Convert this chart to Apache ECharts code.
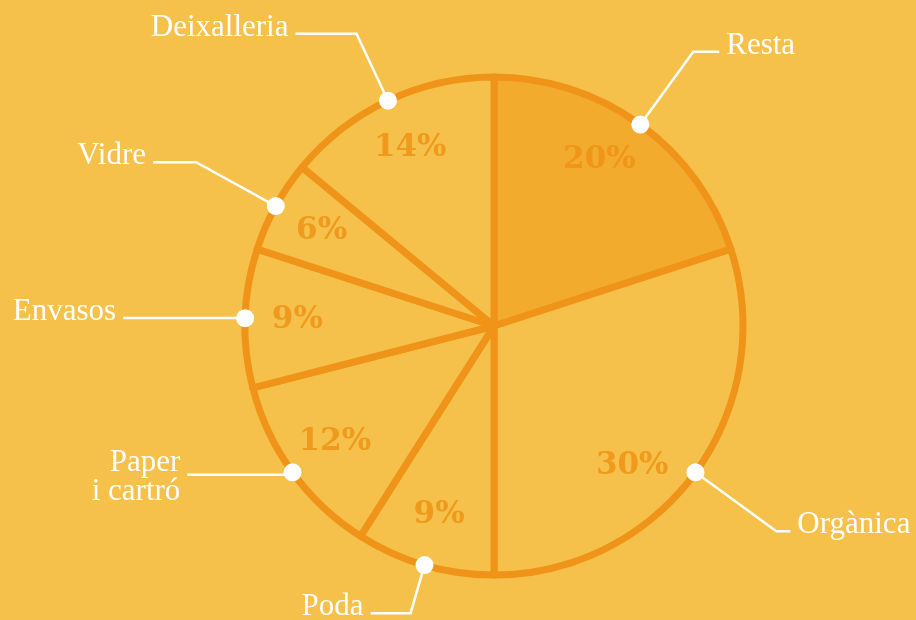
<!DOCTYPE html>
<html>
<head>
<meta charset="utf-8">
<script src="https://cdn.jsdelivr.net/npm/echarts@6/dist/echarts.min.js"></script>
<style>
    html, body { margin: 0; padding: 0; background: #F6C14A; }
    #chart { width: 916px; height: 620px; }
</style>
</head>
<body>
<div id="chart"></div>
<script>
// dades del gràfic (ordre horari des de dalt)
var categories = ['Resta', 'Orgànica', 'Poda', 'Paper\ni cartró', 'Envasos', 'Vidre', 'Deixalleria'];
var values = [20, 30, 9, 12, 9, 6, 14];

var bgColor = '#F6C14A';
var restaColor = '#F3AB2E';
var strokeColor = '#EF9419';
var pctColor = '#EE9012';

// línies de les etiquetes: [length, length2]
var lineSetup = [
    [90, 26],
    [100, 14],
    [50, 40],
    [4, 102],
    [8, 114],
    [91, 43],
    [74, 61]
];
// petit desplaçament de les xifres interiors (en % del cercle)
var pctShift = [-1, 2.6, 0, 0, 0, 0, 0];

(function() {
    var chart = echarts.init(document.getElementById('chart'));
    var center = [494, 326];
    var radius = 249;
    var total = 0, acc = 0, i;
    var pieData = [], dots = [], pcts = [];

    for (i = 0; i < values.length; i++) total += values[i];
    for (i = 0; i < values.length; i++) {
        var mid = (acc + values[i] / 2) / total * 100;
        acc += values[i];
        pieData.push({
            name: categories[i],
            value: values[i],
            itemStyle: { color: i === 0 ? restaColor : bgColor },
            labelLine: { length: lineSetup[i][0], length2: lineSetup[i][1] }
        });
        dots.push([1, mid]);
        pcts.push([0.79, mid + pctShift[i], values[i]]);
    }

    // la línia de base del text queda a l'altura de la línia guia
    function labelText(p) {
        var lines = p.name.split('\n');
        var txt = lines.map(function(l) { return '{b|' + l + '}'; }).join('\n');
        if (lines.length > 1) return '{t|}\n' + txt;
        return txt + '\n{s|}';
    }

    var option = {
        backgroundColor: bgColor,
        animation: false,
        polar: { center: center, radius: radius },
        angleAxis: { type: 'value', min: 0, max: 100, startAngle: 90, clockwise: true, show: false },
        radiusAxis: { type: 'value', min: 0, max: 1, show: false },
        series: [
            {
                type: 'pie',
                center: center,
                radius: radius,
                startAngle: 90,
                clockwise: true,
                avoidLabelOverlap: false,
                silent: true,
                itemStyle: {
                    borderColor: strokeColor,
                    borderWidth: 7
                },
                label: {
                    show: true,
                    position: 'outside',
                    formatter: labelText,
                    distanceToLabelLine: 7,
                    rich: {
                        b: {
                            color: '#fff',
                            fontFamily: 'Liberation Serif',
                            fontSize: 31,
                            lineHeight: 29
                        },
                        s: { lineHeight: 12, fontSize: 1 },
                        t: { lineHeight: 6, fontSize: 1 }
                    }
                },
                labelLine: {
                    show: true,
                    smooth: false,
                    lineStyle: { color: '#fff', width: 2.5 }
                },
                emphasis: { disabled: true },
                data: pieData
            },
            {
                type: 'scatter',
                coordinateSystem: 'polar',
                symbolSize: 18,
                z: 10,
                silent: true,
                itemStyle: { color: '#fff', opacity: 1 },
                data: dots
            },
            {
                type: 'scatter',
                coordinateSystem: 'polar',
                symbolSize: 1,
                z: 10,
                silent: true,
                itemStyle: { color: 'transparent' },
                label: {
                    show: true,
                    position: 'inside',
                    formatter: function(p) { return p.value[2] + '%'; },
                    color: pctColor,
                    fontFamily: 'DejaVu Serif',
                    fontWeight: 'bold',
                    fontSize: 31
                },
                data: pcts
            }
        ]
    };

    chart.setOption(option);
})();
</script>
</body>
</html>
